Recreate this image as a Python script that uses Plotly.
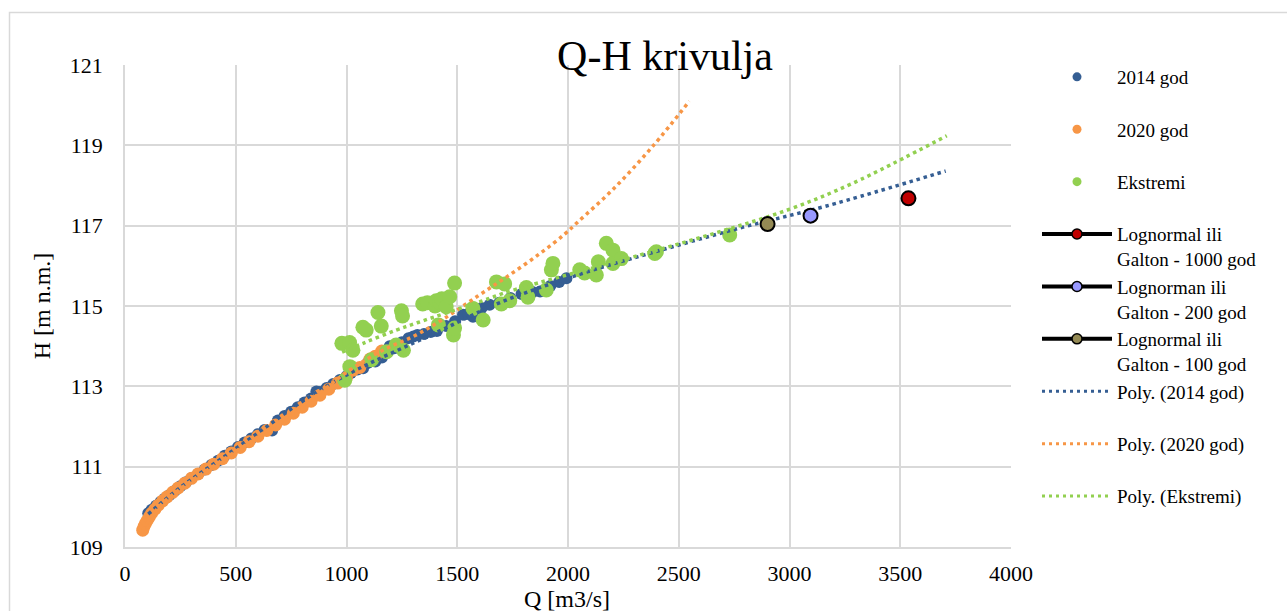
import plotly.graph_objects as go

# ---------------- data ----------------
q2014 = [105, 120, 140, 160, 180, 200, 225, 250, 275, 300, 330, 360, 390, 420, 450, 480, 510, 540,
         570, 600, 630, 664, 690, 720, 750, 780, 810, 840, 864, 880, 910, 940, 970, 1000, 1020, 1050,
         1075, 1095, 1130, 1160, 1195, 1215, 1250, 1280, 1302, 1320, 1350, 1380, 1408, 1450, 1490,
         1526, 1550, 1571, 1610, 1646, 1690, 1740, 1790, 1840, 1874, 1920, 1960, 1993]
h2014 = [109.84, 109.93, 110.03, 110.12, 110.21, 110.29, 110.40, 110.51, 110.61, 110.71, 110.82,
         110.93, 111.04, 111.15, 111.27, 111.38, 111.49, 111.60, 111.70, 111.81, 111.91, 111.90,
         112.15, 112.26, 112.37, 112.48, 112.60, 112.70, 112.87, 112.86, 112.96, 113.06, 113.16,
         113.25, 113.33, 113.42, 113.45, 113.58, 113.62, 113.72, 114.00, 113.95, 114.10, 114.20,
         114.24, 114.28, 114.30, 114.35, 114.38, 114.50, 114.62, 114.78, 114.80, 114.73, 114.95,
         115.03, 115.08, 115.20, 115.30, 115.35, 115.36, 115.50, 115.60, 115.69]

q2020 = [80, 85, 92, 100, 110, 120, 135, 150, 170, 190, 215, 240, 270, 300, 330, 365, 400, 440, 480,
         520, 560, 600, 640, 680, 720, 760, 800, 840, 880, 920, 960, 1000, 1029, 1060, 1106, 1130, 1159]
h2020 = [109.42, 109.50, 109.58, 109.66, 109.75, 109.84, 109.94, 110.04, 110.15, 110.25, 110.36,
         110.47, 110.59, 110.71, 110.82, 110.94, 111.06, 111.20, 111.34, 111.48, 111.62, 111.76,
         111.90, 112.04, 112.18, 112.33, 112.48, 112.63, 112.78, 112.93, 113.08, 113.22, 113.40,
         113.47, 113.68, 113.75, 113.88]

q_ext = [979, 992, 1014, 1015, 1029, 1074, 1089, 1113, 1142, 1157, 1181, 1224, 1248, 1253, 1257,
         1344, 1365, 1400, 1405, 1415, 1420, 1430, 1450, 1466, 1483, 1488, 1488, 1571, 1617, 1677,
         1699, 1714, 1737, 1812, 1819, 1902, 1925, 1932, 2053, 2075, 2128, 2137, 2173, 2203, 2203,
         2241, 2392, 2399, 2730]
h_ext = [114.07, 113.15, 114.09, 113.49, 113.90, 114.47, 114.40, 113.66, 114.84, 114.50, 113.86,
         114.03, 114.88, 114.75, 113.90, 115.05, 115.08, 115.00, 115.13, 114.53, 115.10, 115.18,
         114.98, 115.23, 114.28, 115.57, 114.45, 114.94, 114.65, 115.60, 115.05, 115.55, 115.13,
         115.46, 115.22, 115.40, 115.90, 116.06, 115.90, 115.82, 115.77, 116.10, 116.56, 116.39,
         116.06, 116.18, 116.31, 116.35, 116.77]

# return-period estimates (Lognormal / Galton)
rp_names = ["Lognormal ili<br>Galton - 1000 god", "Lognorman ili<br>Galton - 200 god",
            "Lognormal ili<br>Galton - 100 god"]
rp_q = [3537, 3095, 2901]
rp_h = [117.68, 117.25, 117.04]
rp_colors = ["#C00000", "#9999FF", "#948A54"]

# polynomial trendlines
tr2014_q = [105, 254, 427, 608, 788, 999, 1421, 1700, 2053, 2369, 2775, 3167, 3705]
tr2014_h = [109.82, 110.50, 111.17, 111.87, 112.58, 113.28, 114.38, 115.10, 115.79, 116.31,
            116.94, 117.49, 118.36]
tr2020_q = [80, 150, 250, 400, 600, 800, 1014, 1164, 1308, 1436, 1593, 1722, 1872, 1985, 2042,
            2206, 2383, 2548]
tr2020_h = [109.42, 109.98, 110.45, 111.02, 111.74, 112.50, 113.40, 113.90, 114.26, 114.67,
            115.25, 115.72, 116.30, 116.79, 117.08, 117.92, 118.98, 120.10]
trext_q = [980, 1083, 1225, 1323, 1609, 1744, 2325, 2685, 3001, 3287, 3710]
trext_h = [113.85, 114.09, 114.40, 114.59, 115.12, 115.38, 116.27, 116.85, 117.41, 118.06, 119.24]

x_ticks = [0, 500, 1000, 1500, 2000, 2500, 3000, 3500, 4000]
y_ticks = [109, 111, 113, 115, 117, 119, 121]

BLUE = "#355E93"
ORANGE = "#F79646"
GREEN = "#92D050"
FONT = "Liberation Serif"

fig = go.Figure()

# data traces (no legend) -------------------------------------------------
fig.add_trace(go.Scatter(x=q2014, y=h2014, mode="markers", showlegend=False,
                         marker=dict(color=BLUE, size=12, line=dict(width=0))))
fig.add_trace(go.Scatter(x=q2020, y=h2020, mode="markers", showlegend=False,
                         marker=dict(color=ORANGE, size=13, line=dict(width=0))))
fig.add_trace(go.Scatter(x=q_ext, y=h_ext, mode="markers", showlegend=False,
                         marker=dict(color=GREEN, size=15, line=dict(width=0))))

dot = "3.5px,3.8px"
fig.add_trace(go.Scatter(x=tr2014_q, y=tr2014_h, mode="lines", showlegend=False,
                         line=dict(color=BLUE, width=3.5, dash=dot, shape="spline")))
fig.add_trace(go.Scatter(x=tr2020_q, y=tr2020_h, mode="lines", showlegend=False,
                         line=dict(color=ORANGE, width=3.5, dash=dot, shape="spline")))
fig.add_trace(go.Scatter(x=trext_q, y=trext_h, mode="lines", showlegend=False,
                         line=dict(color=GREEN, width=3.5, dash=dot, shape="spline")))

for q, h, c in zip(rp_q, rp_h, rp_colors):
    fig.add_trace(go.Scatter(x=[q], y=[h], mode="markers", showlegend=False,
                             marker=dict(color=c, size=14, line=dict(color="black", width=2))))

# legend-only entries -----------------------------------------------------
pad = "<br> "
for name, c in [("2014 god", BLUE), ("2020 god", ORANGE), ("Ekstremi", GREEN)]:
    fig.add_trace(go.Scatter(x=[None], y=[None], mode="markers", name=name + pad,
                             marker=dict(color=c, size=9)))
for name, c in zip(rp_names, rp_colors):
    fig.add_trace(go.Scatter(x=[None], y=[None], mode="lines+markers", name=name,
                             line=dict(color="black", width=4),
                             marker=dict(color=c, size=10, line=dict(color="black", width=1.5))))
for name, c in [("Poly. (2014 god)", BLUE), ("Poly. (2020 god)", ORANGE),
                ("Poly. (Ekstremi)", GREEN)]:
    fig.add_trace(go.Scatter(x=[None], y=[None], mode="lines", name=name + pad,
                             line=dict(color=c, width=3, dash="3px,4px")))

# layout --------------------------------------------------------------------
L, R, T, B = 125, 276, 65, 64
W, H = 1287, 611
pw, ph = W - L - R, H - T - B

def px2paper_x(px):
    return (px - L) / pw

def px2paper_y(py):
    return (H - B - py) / ph

fig.update_layout(
    width=W, height=H,
    margin=dict(l=L, r=R, t=T, b=B),
    paper_bgcolor="white", plot_bgcolor="white",
    font=dict(family=FONT, color="black", size=20),
    title=dict(text="Q-H krivulja", x=px2paper_x(665), xref="paper", xanchor="center",
               y=1 - 55 / H, yanchor="middle", font=dict(size=42, family=FONT)),
    legend=dict(x=px2paper_x(1037), y=px2paper_y(58), xanchor="left", yanchor="top",
                valign="top", itemwidth=70, font=dict(size=19, family=FONT),
                bgcolor="rgba(0,0,0,0)", borderwidth=0, tracegroupgap=0, maxheight=600),
    shapes=[dict(type="rect", xref="paper", yref="paper",
                 x0=px2paper_x(9.5), x1=px2paper_x(1300), y0=px2paper_y(630), y1=px2paper_y(12.5),
                 line=dict(color="#D9D9D9", width=1.5), fillcolor="rgba(0,0,0,0)", layer="below")],
    annotations=[dict(text="Q [m3/s]", xref="paper", yref="paper", x=px2paper_x(567),
                      y=px2paper_y(599), xanchor="center", yanchor="middle", showarrow=False,
                      font=dict(size=24, family=FONT, color="black"))],
)

fig.update_xaxes(range=[0, 4000], tickvals=x_ticks, ticktext=[str(v) for v in x_ticks],
                 automargin=False,
                 showgrid=True, gridcolor="#D9D9D9", gridwidth=1.5,
                 showline=True, linecolor="#D9D9D9", linewidth=1.5, zeroline=False,
                 ticks="", tickfont=dict(size=22, family=FONT), ticklabelstandoff=6)
fig.update_yaxes(range=[109, 121], tickvals=y_ticks, ticktext=[str(v) for v in y_ticks],
                 automargin=False,
                 showgrid=True, gridcolor="#D9D9D9", gridwidth=1.5,
                 showline=True, linecolor="#D9D9D9", linewidth=1.5, zeroline=False,
                 ticks="", tickfont=dict(size=22, family=FONT), ticklabelstandoff=16,
                 title=dict(text="H [m n.m.]", font=dict(size=24, family=FONT), standoff=12))

fig.write_html("out.html")
